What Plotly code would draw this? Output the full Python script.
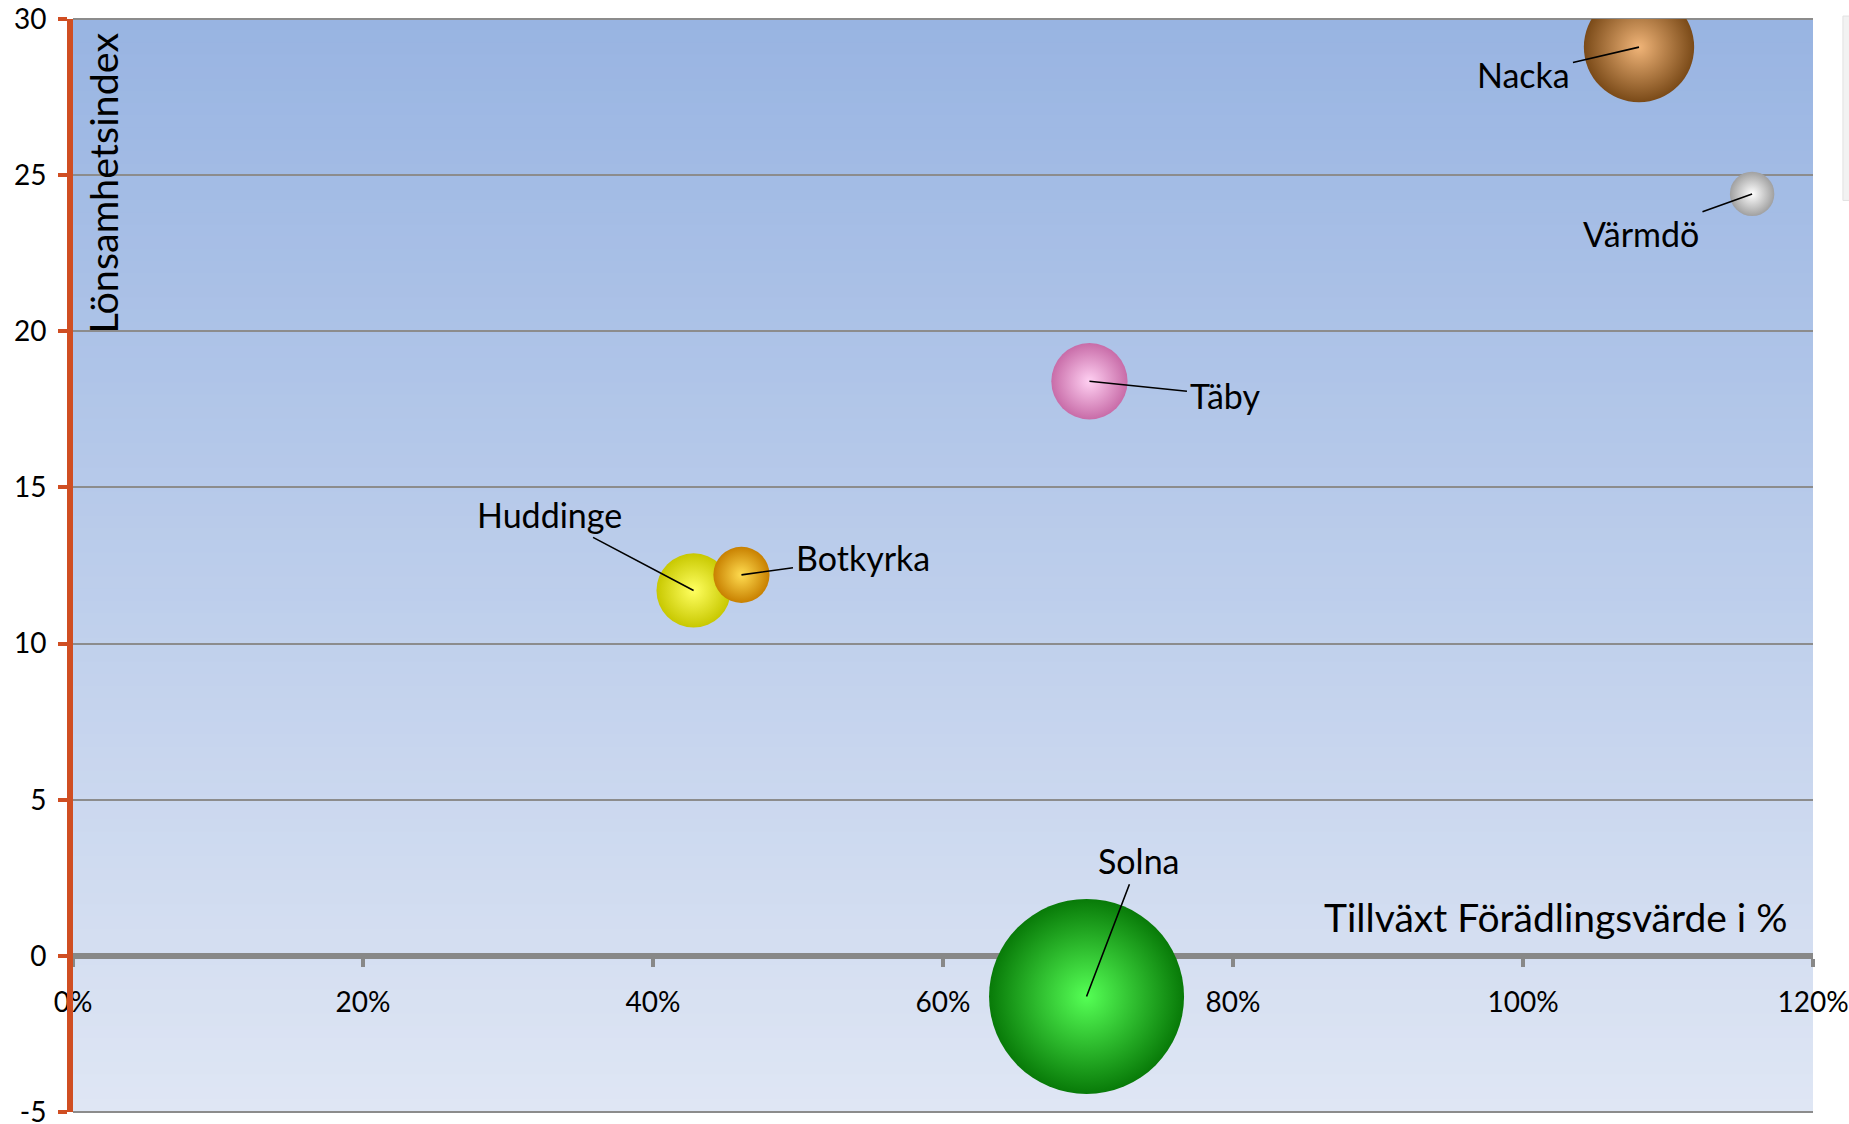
import plotly.graph_objects as go

# ---- data ----
kommuner = ["Huddinge", "Botkyrka", "Täby", "Solna", "Nacka", "Värmdö"]
tillvaxt = [42.8, 46.1, 70.1, 69.9, 108.0, 115.8]          # Tillväxt Förädlingsvärde i %
lonsamhet = [11.7, 12.2, 18.4, -1.3, 29.1, 24.4]            # Lönsamhetsindex
storlek = [14.5, 8.3, 15.3, 100.0, 32.0, 5.2]               # bubble size
center_colors = ["#FFFF60", "#FFDC50", "#FFD0F2", "#55FF55", "#F0B478", "#FFFFFF"]
edge_colors = ["#C8C800", "#C88000", "#C86CA8", "#087A08", "#7A4A18", "#A0A0A0"]
label_offsets = [(-144, -76), (122, -17), (136, 14), (52, -136), (-116, 27), (-111, 40)]

x_ticks = [0, 20, 40, 60, 80, 100, 120]
x_ticktext = ["0%", "20%", "40%", "60%", "80%", "100%", "120%"]
y_ticks = [-5, 0, 5, 10, 15, 20, 25, 30]
y_ticktext = ["-5", "0", "5", "10", "15", "20", "25", "30"]
x_range = [0, 120]
y_range = [-5, 30]

FONT = "Lato"
ORANGE = "#D04E22"
GREY = "#888888"

fig = go.Figure()

max_d = 195
fig.add_trace(go.Scatter(
    x=tillvaxt, y=lonsamhet, mode="markers", text=kommuner,
    marker=dict(
        size=storlek, sizemode="area",
        sizeref=2.0 * max(storlek) / (max_d ** 2),
        color=edge_colors,
        gradient=dict(type="radial", color=center_colors),
        line=dict(width=0),
        opacity=1,
    ),
    hoverinfo="text", showlegend=False, cliponaxis=True,
))

# background vertical gradient (styling)
shapes = []
n = 90
top = (152, 180, 226)
bot = (223, 230, 244)
for i in range(n):
    t = (i + 0.5) / n
    c = tuple(round(top[k] + (bot[k] - top[k]) * t) for k in range(3))
    shapes.append(dict(type="rect", xref="x domain", yref="y domain",
                       x0=0, x1=1, y0=1 - (i + 1) / n - 0.001, y1=1 - i / n + 0.001,
                       fillcolor="rgb(%d,%d,%d)" % c, line=dict(width=0), layer="below"))
# top and bottom border lines of plot area
for yy in (0, 1):
    shapes.append(dict(type="line", xref="x domain", yref="y domain", x0=0, x1=1, y0=yy, y1=yy,
                       line=dict(color="#8C8C8C", width=2), layer="below"))
# white mask above plot area (bubble clipped at top like the original)
shapes.append(dict(type="rect", xref="paper", yref="paper", x0=0.002, x1=1.0, y0=1.0009, y1=1.03,
                   fillcolor="white", line=dict(width=0), layer="above"))
# clipped legend remnant at the right edge
shapes.append(dict(type="rect", xref="paper", yref="paper", x0=1.0172, x1=1.03,
                   y0=0.834, y1=1.0027, fillcolor="#F2F2F2",
                   line=dict(color="#E2E2E2", width=1)))

annotations = []
for name, xv, yv, (ax, ay) in zip(kommuner, tillvaxt, lonsamhet, label_offsets):
    annotations.append(dict(
        x=xv, y=yv, xref="x", yref="y", text=name, showarrow=True,
        ax=ax, ay=ay, arrowhead=0, arrowwidth=1.6, arrowcolor="black",
        standoff=0, startstandoff=2,
        font=dict(family=FONT, size=34, color="black")))

annotations.append(dict(
    xref="paper", yref="paper", x=0.9862, y=0.1784, xanchor="right", yanchor="middle",
    text="Tillväxt Förädlingsvärde i %", showarrow=False,
    font=dict(family=FONT, size=39, color="black")))
annotations.append(dict(
    xref="paper", yref="paper", x=0.0025, y=0.9899, xanchor="left", yanchor="top",
    text="Lönsamhetsindex", showarrow=False, textangle=-90,
    font=dict(family=FONT, size=39.5, color="black")))

zero_pos = (0 - y_range[0]) / (y_range[1] - y_range[0])

fig.update_layout(
    width=1849, height=1124, autosize=False,
    margin=dict(l=73, r=36, t=19, b=12, pad=0),
    paper_bgcolor="white", plot_bgcolor="rgb(190,205,235)",
    shapes=shapes, annotations=annotations,
    font=dict(family=FONT, color="black"),
    xaxis=dict(
        range=x_range, tickmode="array", tickvals=x_ticks, ticktext=x_ticktext,
        showgrid=False, zeroline=False,
        showline=True, linecolor=GREY, linewidth=6,
        ticks="outside", ticklen=8, tickwidth=4, tickcolor=GREY,
        tickfont=dict(family=FONT, size=28, color="black"),
        ticklabelstandoff=12, ticklabeloverflow="allow",
        anchor="free", position=zero_pos, layer="below traces",
        fixedrange=True, automargin=False,
    ),
    yaxis=dict(
        range=y_range, tickmode="array", tickvals=y_ticks, ticktext=y_ticktext,
        showgrid=True, gridcolor="#8C8C8C", gridwidth=1.5,
        zeroline=False,
        showline=True, linecolor=ORANGE, linewidth=6,
        ticks="outside", ticklen=9, tickwidth=4, tickcolor=ORANGE,
        tickfont=dict(family=FONT, size=28, color="black"),
        ticklabelstandoff=6, ticklabeloverflow="allow",
        fixedrange=True, automargin=False,
    ),
)

fig.write_html(
    "out.html",
    config={"displayModeBar": False},
    post_script="document.body.style.margin='0';document.body.style.overflow='hidden';",
)
